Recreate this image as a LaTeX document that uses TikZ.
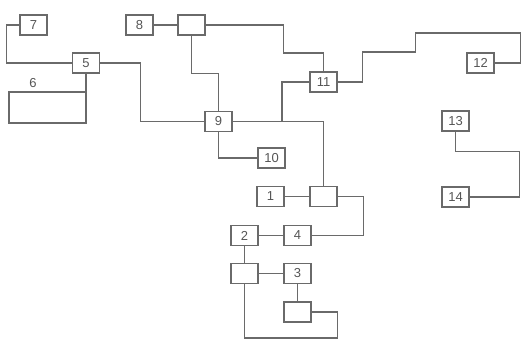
\documentclass[tikz,border=0pt]{standalone}
\usepackage{fontspec}
\setmainfont{Liberation Sans}
\definecolor{ln}{HTML}{6A6A6A}
\definecolor{tx}{HTML}{555555}
\begin{document}
\begin{tikzpicture}[x=1pt,y=-1pt,
  bx/.style={draw=ln,line width=1.1pt,minimum width=27pt,minimum height=20pt,inner sep=0pt,text=tx,font=\fontsize{13}{13}\selectfont},
  lbl/.style={text=tx,font=\fontsize{13}{13}\selectfont,inner sep=0pt},
  cn/.style={draw=ln,line width=1.1pt}]
\useasboundingbox (0,0) rectangle (522,341);
\node[bx] (n7) at (33.5,25) {7};
\node[bx] (n5) at (86,63) {5};
\node[bx,minimum width=77pt,minimum height=31pt] (n6) at (47.5,107.5) {};
\node[lbl] (l6) at (33,83) {6};
\node[bx] (n8) at (139.5,25) {8};
\node[bx] (nA) at (191.5,25) {};
\node[bx] (n9) at (218.5,121.5) {9};
\node[bx] (n10) at (271.5,158) {10};
\node[bx] (n11) at (323.5,82) {11};
\node[bx] (n12) at (480.5,63) {12};
\node[bx] (n13) at (455.5,121) {13};
\node[bx] (n14) at (455.5,197) {14};
\node[bx] (n1) at (270.5,196.5) {1};
\node[bx] (nB) at (323.5,196.5) {};
\node[bx] (n2) at (244.5,235.5) {2};
\node[bx] (n4) at (297.5,235.5) {4};
\node[bx] (nC) at (244.5,273.5) {};
\node[bx] (n3) at (297.5,273.5) {3};
\node[bx] (nD) at (297.5,312) {};
\coordinate (j) at (282,121.5);
\draw[cn] (n7.west) -- ++(-13,0) |- (n5.west);
\draw[cn] (n5.south) -- (n5.south |- n6.north);
\draw[cn] (n5.east) -- ++(40,0) |- (n9.west);
\draw[cn] (n8) -- (nA);
\draw[cn] (nA.south) -- ++(0,38) -| (n9.north);
\draw[cn] (nA.east) -| ++(78,28) -| (n11.north);
\draw[cn] (n11.west) -| (j);
\draw[cn] (n9.east) -| (nB.north);
\draw[cn] (n9.south) |- (n10.west);
\draw[cn] (n11.east) -- ++(25,0) -- ++(0,-30) -- ++(53,0) -- ++(0,-19) -- ++(105,0) |- (n12.east);
\draw[cn] (n13.south) -- ++(0,20) -- ++(64,0) |- (n14.east);
\draw[cn] (n1) -- (nB);
\draw[cn] (nB.east) -- ++(26,0) |- (n4.east);
\draw[cn] (n2) -- (n4);
\draw[cn] (n2) -- (nC);
\draw[cn] (nC) -- (n3);
\draw[cn] (n3) -- (nD);
\draw[cn] (nD.east) -- ++(26,0) -- ++(0,26) -| (nC.south);
\end{tikzpicture}
\end{document}
